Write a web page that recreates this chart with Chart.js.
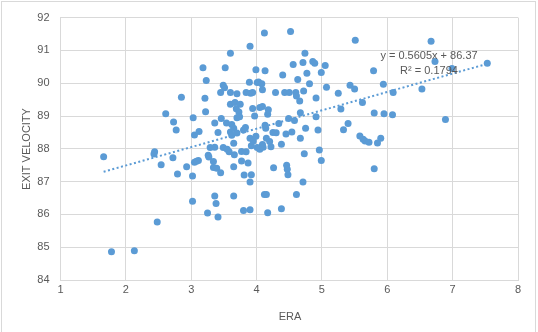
<!DOCTYPE html>
<html>
<head>
<meta charset="utf-8">
<script src="https://cdn.jsdelivr.net/npm/chart.js@4"></script>
<style>
  html, body { margin: 0; padding: 0; background: #ffffff; }
  #wrap { width: 538px; height: 332px; position: relative; }
</style>
</head>
<body>
<div id="wrap"><canvas id="c" width="538" height="332"></canvas></div>
<script>
// Pitcher ERA against average exit velocity allowed
const era = [
  1.66, 1.78, 2.13, 2.48, 2.44, 2.43, 2.54, 2.61, 2.73, 2.77,
  2.72, 2.79, 2.85, 2.93, 3.02, 3.02, 3.03, 3.05, 3.12, 3.05,
  3.11, 3.18, 3.21, 3.23, 3.22, 3.25, 3.26, 3.27, 3.29, 3.36,
  3.36, 3.34, 3.36, 3.38, 3.41, 3.34, 3.39, 3.45, 3.41, 3.45,
  3.46, 3.49, 3.51, 3.52, 3.54, 3.49, 3.55, 3.58, 3.60, 3.60,
  3.60, 3.62, 3.60, 3.62, 3.65, 3.65, 3.66, 3.65, 3.65, 3.67,
  3.69, 3.70, 3.70, 3.75, 3.73, 3.74, 3.70, 3.77, 3.77, 3.80,
  3.80, 3.81, 3.84, 3.83, 3.84, 3.87, 3.89, 3.90, 3.90, 3.90,
  3.90, 3.91, 3.92, 3.92, 3.94, 3.94, 3.97, 3.95, 3.99, 3.99,
  4.01, 4.01, 4.03, 4.05, 4.05, 4.08, 4.09, 4.09, 4.09, 4.10,
  4.12, 4.13, 4.12, 4.15, 4.13, 4.14, 4.15, 4.17, 4.17, 4.18,
  4.20, 4.22, 4.25, 4.26, 4.29, 4.30, 4.34, 4.38, 4.38, 4.40,
  4.43, 4.45, 4.46, 4.47, 4.48, 4.49, 4.52, 4.50, 4.54, 4.56,
  4.58, 4.60, 4.61, 4.61, 4.63, 4.66, 4.67, 4.67, 4.71, 4.71,
  4.72, 4.73, 4.74, 4.75, 4.77, 4.81, 4.86, 4.89, 4.91, 4.91,
  4.94, 4.96, 4.99, 4.99, 5.05, 5.07, 5.25, 5.29, 5.33, 5.40,
  5.43, 5.50, 5.51, 5.58, 5.62, 5.63, 5.66, 5.72, 5.79, 5.80,
  5.80, 5.85, 5.90, 5.94, 5.95, 6.08, 6.09, 6.53, 6.67, 6.73,
  6.89, 6.99, 7.53, 3.08
];
const exitVelocity = [
  87.76, 84.86, 84.89, 85.77, 87.91, 87.84, 87.51, 89.07, 88.82, 88.57,
  87.73, 87.23, 89.57, 87.45, 86.40, 87.17, 88.95, 88.42, 88.53, 87.59,
  87.64, 90.47, 89.54, 90.08, 89.13, 86.04, 87.80, 87.75, 88.04, 88.05,
  88.79, 87.61, 86.56, 86.33, 85.92, 87.43, 87.41, 87.27, 88.50, 89.72,
  88.92, 89.94, 89.86, 90.47, 88.79, 88.04, 87.99, 87.91, 90.91, 89.36,
  89.72, 88.74, 88.51, 88.41, 88.63, 88.17, 87.82, 87.45, 86.56, 89.41,
  89.22, 89.68, 88.95, 89.36, 89.12, 88.98, 88.48, 87.92, 87.63, 88.57,
  86.12, 87.20, 87.91, 88.65, 89.72, 87.57, 90.03, 86.14, 91.13, 86.99,
  88.32, 89.69, 87.21, 88.09, 89.72, 89.23, 89.00, 88.24, 90.41, 88.38,
  90.02, 88.04, 90.04, 89.26, 87.99, 89.98, 89.80, 89.29, 88.13, 88.05,
  91.53, 90.38, 86.61, 86.61, 88.72, 88.63, 88.32, 86.05, 89.05, 89.19,
  88.22, 88.06, 88.50, 87.42, 89.72, 88.49, 88.77, 86.17, 88.14, 90.25,
  89.72, 88.45, 87.50, 87.38, 87.21, 88.92, 91.58, 89.72, 88.51, 90.57,
  88.86, 89.72, 89.61, 86.61, 90.11, 89.46, 89.10, 88.32, 86.99, 90.63,
  89.76, 87.85, 90.91, 88.63, 90.30, 89.98, 90.66, 90.61, 89.55, 88.98,
  88.57, 87.96, 87.64, 90.33, 90.54, 89.88, 89.69, 89.21, 88.58, 88.77,
  89.94, 89.82, 91.31, 88.39, 89.41, 88.29, 88.24, 88.20, 90.38, 89.09,
  87.39, 88.18, 88.32, 89.97, 89.07, 89.04, 89.72, 89.82, 91.28, 90.66,
  88.89, 90.45, 90.61, 87.62
];

// Linear trendline coefficients as printed on the chart
const trendSlope = 0.5605;
const trendIntercept = 86.37;
const trendLabel = 'y = 0.5605x + 86.37';
const r2Label = 'R\u00b2 = 0.1794';

const xTicks = [1, 2, 3, 4, 5, 6, 7, 8];
const yTicks = [84, 85, 86, 87, 88, 89, 90, 91, 92];
const xTitle = 'ERA';
const yTitle = 'EXIT VELOCITY';

const points = era.map((x, i) => ({ x: x, y: exitVelocity[i] }));
const xMin = Math.min(...era), xMax = Math.max(...era);
const trend = [
  { x: xMin, y: trendSlope * xMin + trendIntercept },
  { x: xMax, y: trendSlope * xMax + trendIntercept }
];

const FONT = '"Liberation Sans", Arial, sans-serif';
const TEXT = '#595959';
const GRID = '#d9d9d9';
const BLUE = '#5b9bd5';

// Frame, axis titles and the trendline equation
const decor = {
  id: 'decor',
  beforeDraw(chart) {
    const ctx = chart.ctx;
    ctx.save();
    ctx.fillStyle = '#ffffff';
    ctx.fillRect(0, 0, chart.width, chart.height);
    ctx.strokeStyle = GRID;
    ctx.lineWidth = 1;
    ctx.strokeRect(1.5, 1.5, 534, 340);
    ctx.restore();
  },
  afterDraw(chart) {
    const ctx = chart.ctx;
    ctx.save();
    ctx.fillStyle = TEXT;
    ctx.font = '11px ' + FONT;
    ctx.textAlign = 'center';
    ctx.textBaseline = 'middle';
    ctx.fillText(xTitle, 290, 317);
    ctx.fillText(trendLabel, 429, 56);
    ctx.fillText(r2Label, 429, 71);
    ctx.translate(27, 149);
    ctx.rotate(-Math.PI / 2);
    ctx.fillText(yTitle, 0, 0);
    ctx.restore();
  }
};

new Chart(document.getElementById('c'), {
  type: 'scatter',
  data: {
    datasets: [
      {
        label: 'Exit velocity',
        data: points,
        pointRadius: 3.5,
        pointHoverRadius: 3.5,
        pointBackgroundColor: BLUE,
        pointBorderColor: BLUE,
        pointBorderWidth: 0,
        order: 1
      },
      {
        type: 'line',
        label: 'Linear trend',
        data: trend,
        borderColor: BLUE,
        borderWidth: 2,
        borderDash: [2, 2.5],
        pointRadius: 0,
        fill: false,
        order: 2
      }
    ]
  },
  options: {
    responsive: false,
    devicePixelRatio: 1,
    animation: false,
    events: [],
    layout: { padding: { top: 16, right: 20, left: 0, bottom: 0 } },
    plugins: {
      legend: { display: false },
      tooltip: { enabled: false }
    },
    scales: {
      x: {
        type: 'linear',
        min: 1,
        max: 8,
        afterBuildTicks(scale) { scale.ticks = xTicks.map(v => ({ value: v })); },
        afterFit(scale) { scale.height = 52; },
        grid: { color: GRID, lineWidth: 1, drawTicks: false },
        border: { color: GRID },
        ticks: { color: TEXT, font: { family: FONT, size: 11 }, padding: 3, maxRotation: 0 }
      },
      y: {
        type: 'linear',
        min: 84,
        max: 92,
        afterBuildTicks(scale) { scale.ticks = yTicks.map(v => ({ value: v })); },
        afterFit(scale) { scale.width = 60.5; },
        grid: { color: GRID, lineWidth: 1, drawTicks: false },
        border: { color: GRID },
        ticks: { color: TEXT, font: { family: FONT, size: 11 }, padding: 11 }
      }
    }
  },
  plugins: [decor]
});
</script>
</body>
</html>
